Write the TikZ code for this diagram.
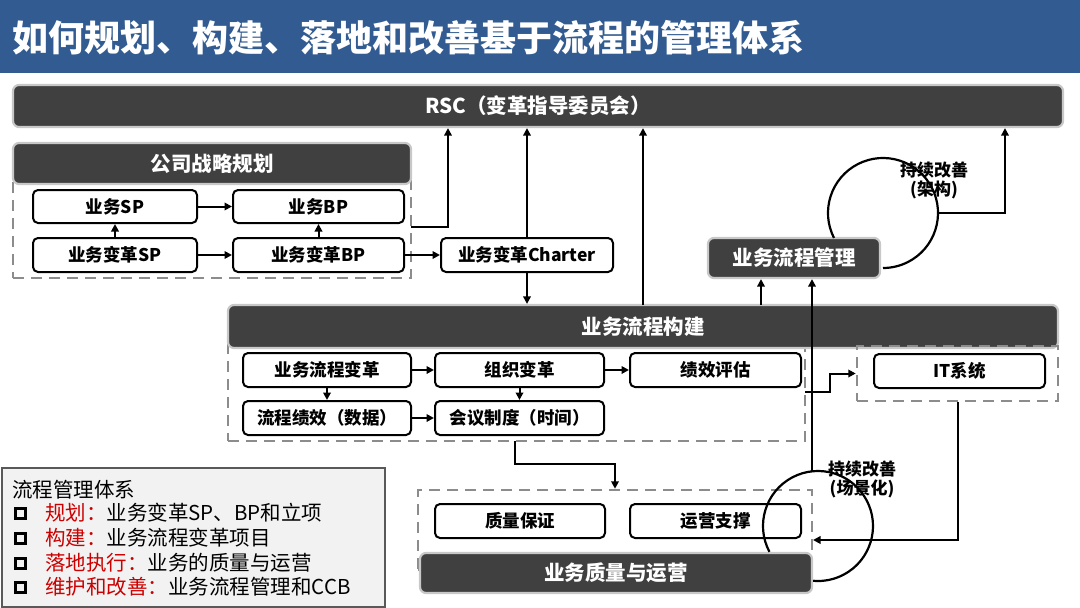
\documentclass[tikz,border=0pt]{standalone}
\usepackage{fontspec}
\setmainfont{Noto Sans CJK SC}
\usetikzlibrary{arrows.meta}
\definecolor{titleblue}{RGB}{50,92,145}
\definecolor{bardark}{RGB}{64,64,64}
\definecolor{barborder}{RGB}{200,200,200}
\definecolor{dashgray}{RGB}{140,140,140}
\definecolor{legfill}{RGB}{242,242,242}
\definecolor{legdraw}{RGB}{89,89,89}
\definecolor{legred}{RGB}{204,0,0}
\newcommand\titlefnt{\bfseries\fontsize{36}{40}\selectfont}
\newcommand\barfnt{\bfseries\fontsize{20.5}{24}\selectfont}
\newcommand\boxfnt{\bfseries\fontsize{17.5}{20}\selectfont}
\newcommand\loopfnt{\bfseries\fontsize{17}{19}\selectfont}
\newcommand\legfnt{\fontsize{20.5}{24}\selectfont}
\begin{document}
\begin{tikzpicture}[x=1pt,y=1pt,yscale=-1,
  darkbar/.style={draw=barborder, line width=2.2pt, fill=bardark, rounded corners=6pt, text=white, font=\barfnt, inner sep=0pt},
  wbox/.style={draw=black, line width=2pt, fill=white, rounded corners=5pt, font=\boxfnt, inner sep=0pt},
  grp/.style={draw=dashgray, line width=2.5pt, dash pattern=on 11pt off 7pt},
  arr/.style={draw=black, line width=2pt, -{Triangle[length=7.5pt,width=7.5pt]}},
  loopline/.style={draw=black, line width=2.2pt},
  legsq/.style={draw=black, line width=3pt},
  legtxt/.style={anchor=west, font=\legfnt, inner sep=0pt}
]
\useasboundingbox (0,0) rectangle (1080,608);

% title
\fill[titleblue] (0,0) rectangle (1080,73);
\node[anchor=west, text=white, font=\titlefnt, inner sep=0pt] (title) at (12,38) {如何规划、构建、落地和改善基于流程的管理体系};

% dashed groups (behind bars)
\node[grp, minimum width=398pt, minimum height=118pt, inner sep=0pt] (stratgrp) at (212,219) {};
\node[grp, minimum width=577pt, minimum height=111pt, inner sep=0pt] (buildgrp) at (516.5,385.5) {};
\node[grp, minimum width=394pt, minimum height=80pt, inner sep=0pt] (qgrp) at (615,530) {};

% dark bars
\node[darkbar, minimum width=1050pt, minimum height=42pt] (rsc) at (538,106) {RSC（变革指导委员会）};
\node[darkbar, minimum width=398pt, minimum height=41pt] (strat) at (212,163.5) {公司战略规划};
\node[darkbar, minimum width=830pt, minimum height=43pt] (build) at (643,326.5) {业务流程构建};
\node[darkbar, minimum width=172pt, minimum height=40pt] (mgmt) at (794,258) {业务流程管理};
\node[darkbar, minimum width=392pt, minimum height=40pt] (qops) at (616,573) {业务质量与运营};

% IT group (drawn over bar edge)
\node[grp, minimum width=201pt, minimum height=55pt, inner sep=0pt] (itgrp) at (957.5,373.5) {};

% white boxes
\node[wbox, minimum width=164pt, minimum height=33pt] (bsp) at (115,206.5) {业务SP};
\node[wbox, minimum width=171pt, minimum height=33pt] (bbp) at (318.5,206.5) {业务BP};
\node[wbox, minimum width=164pt, minimum height=34pt] (btsp) at (115,255) {业务变革SP};
\node[wbox, minimum width=171pt, minimum height=34pt] (btbp) at (318.5,255) {业务变革BP};
\node[wbox, minimum width=172pt, minimum height=34pt] (charter) at (527,255) {业务变革Charter};

\node[wbox, minimum width=168pt, minimum height=34pt] (bpc) at (327,370) {业务流程变革};
\node[wbox, minimum width=169pt, minimum height=34pt] (org) at (519.5,370) {组织变革};
\node[wbox, minimum width=171pt, minimum height=34pt] (perf) at (715.5,370) {绩效评估};
\node[wbox, minimum width=168pt, minimum height=34pt] (pdata) at (327,418) {流程绩效（数据）};
\node[wbox, minimum width=169pt, minimum height=34pt] (meet) at (519.5,418) {会议制度（时间）};

\node[wbox, minimum width=171pt, minimum height=34pt] (it) at (959.5,371) {IT系统};

\node[wbox, minimum width=170pt, minimum height=34pt] (qa) at (520,521) {质量保证};
\node[wbox, minimum width=171pt, minimum height=34pt] (ops) at (715.5,521) {运营支撑};

% improvement loops
\draw[loopline] (883,213) ++(153:55pt) arc[start angle=153, end angle=450, radius=55pt];
\node[font=\loopfnt, align=center, inner sep=0pt] (loop1) at (934,180) {持续改善\\(架构)};
\draw[loopline] (818,526) ++(152:55pt) arc[start angle=152, end angle=455, radius=55pt];
\node[font=\loopfnt, align=center, inner sep=0pt] (loop2) at (862,479) {持续改善\\(场景化)};

% connectors: strategy
\draw[arr] (bsp) -- (bbp);
\draw[arr] (btsp) -- (bsp);
\draw[arr] (btbp) -- (bbp);
\draw[arr] (btsp) -- (btbp);
\draw[arr] (btbp) -- (charter);
\coordinate (g1) at (411,227);
\coordinate (g1b) at (448,227);
\draw[arr] (g1) -- (g1b) -- (g1b |- rsc.south);
\draw[arr] (charter.north) -- (charter.north |- rsc.south);
\draw[arr] (charter.south) -- (charter.south |- build.north);
\coordinate (c643) at (643,305);
\draw[arr] (c643) -- (c643 |- rsc.south);

% connectors: build
\draw[arr] (bpc) -- (org);
\draw[arr] (org) -- (perf);
\draw[arr] (bpc) -- (pdata);
\draw[arr] (org) -- (meet);
\draw[arr] (pdata) -- (meet);
\coordinate (it1) at (805,392);
\draw[arr] (it1) -- (830,392) -- (830,373.5) -- (itgrp.west);

% connectors: management
\coordinate (m1) at (761,305);
\draw[arr] (m1) -- (m1 |- mgmt.south);
\coordinate (c2t) at (812,471);
\draw[arr] (c2t) -- (c2t |- mgmt.south);
\coordinate (cr1) at (938,213);
\coordinate (cr1b) at (1005,213);
\draw[arr] (cr1) -- (cr1b) -- (cr1b |- rsc.south);

% connectors: quality
\coordinate (b1) at (515,441);
\draw[arr] (b1) -- (515,464) -| (qgrp.north);
\coordinate (q1) at (813,540);
\draw[arr] (itgrp.south) |- (q1);

% legend
\node[draw=legdraw, line width=1.2pt, fill=legfill, minimum width=383pt, minimum height=139pt, inner sep=0pt] (legend) at (193.5,537.5) {};
\node[legtxt] (lh) at (12,490) {流程管理体系};
\draw[legsq] (15,508) rectangle (25,518);
\node[legtxt] (l1) at (45,513) {\textcolor{legred}{规划：}业务变革SP、BP和立项};
\draw[legsq] (15,533) rectangle (25,543);
\node[legtxt] (l2) at (45,538) {\textcolor{legred}{构建：}业务流程变革项目};
\draw[legsq] (15,558) rectangle (25,568);
\node[legtxt] (l3) at (45,563) {\textcolor{legred}{落地执行：}业务的质量与运营};
\draw[legsq] (15,582) rectangle (25,592);
\node[legtxt] (l4) at (45,587) {\textcolor{legred}{维护和改善：}业务流程管理和CCB};
\end{tikzpicture}
\end{document}
